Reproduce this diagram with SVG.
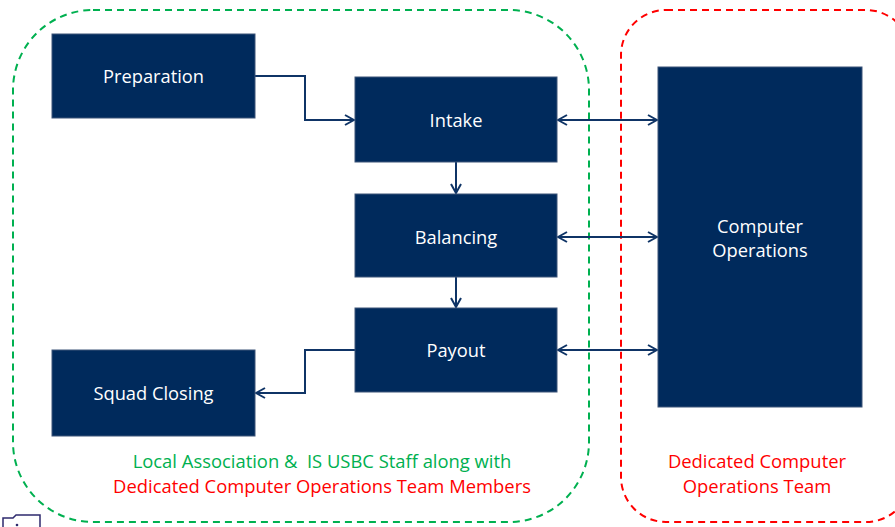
<svg xmlns="http://www.w3.org/2000/svg" width="895" height="527" viewBox="0 0 895 527">
<defs>
<style>
.node{fill:#002A5C;stroke:#3C5478;stroke-width:1}
.lbl{font-family:"Open Sans","Liberation Sans",sans-serif;font-size:18.3px;fill:#FFFFFF;text-anchor:middle}
.conn{fill:none;stroke:#0F3466;stroke-width:2}
.cap{font-family:"Open Sans","Liberation Sans",sans-serif;font-size:18.4px;text-anchor:middle;white-space:pre}
</style>
<marker id="ah" viewBox="0 0 12 12" refX="11" refY="6" markerWidth="12" markerHeight="12" markerUnits="userSpaceOnUse" orient="auto-start-reverse">
<path d="M2,1 L11,6 L2,11" fill="none" stroke="#0F3466" stroke-width="2"/>
</marker>
</defs>
<rect width="895" height="527" fill="#FFFFFF"/>
<g id="group-local">
<rect x="13" y="10" width="576" height="512" rx="80" ry="80" fill="none" stroke="#00B050" stroke-width="2" stroke-dasharray="7,5"/>
<text class="cap" x="322" y="468" fill="#00B050" xml:space="preserve">Local Association &amp;  IS USBC Staff along with</text>
<text class="cap" x="322" y="493" fill="#FF0000">Dedicated Computer Operations Team Members</text>
</g>
<g id="group-dedicated">
<rect x="621" y="10" width="290" height="512" rx="45" ry="45" fill="none" stroke="#FF0000" stroke-width="2" stroke-dasharray="7,5"/>
<text class="cap" x="757" y="468" fill="#FF0000">Dedicated Computer</text>
<text class="cap" x="757" y="493" fill="#FF0000">Operations Team</text>
</g>
<g id="connectors">
<path class="conn" d="M255,76 H305 V120 H354" marker-end="url(#ah)"/>
<path class="conn" d="M456,162 V193" marker-end="url(#ah)"/>
<path class="conn" d="M456,277 V307" marker-end="url(#ah)"/>
<path class="conn" d="M355,350 H305 V393 H256" marker-end="url(#ah)"/>
<path class="conn" d="M558,120 H657" marker-start="url(#ah)" marker-end="url(#ah)"/>
<path class="conn" d="M558,237 H657" marker-start="url(#ah)" marker-end="url(#ah)"/>
<path class="conn" d="M558,350 H657" marker-start="url(#ah)" marker-end="url(#ah)"/>
</g>
<g id="node-preparation">
<rect class="node" x="52" y="34" width="203" height="84"/>
<text class="lbl" x="153.5" y="83">Preparation</text>
</g>
<g id="node-intake">
<rect class="node" x="355" y="77" width="202" height="85"/>
<text class="lbl" x="456" y="127">Intake</text>
</g>
<g id="node-balancing">
<rect class="node" x="355" y="194" width="202" height="83"/>
<text class="lbl" x="456" y="244">Balancing</text>
</g>
<g id="node-payout">
<rect class="node" x="355" y="308" width="202" height="84"/>
<text class="lbl" x="456" y="357">Payout</text>
</g>
<g id="node-squad-closing">
<rect class="node" x="52" y="350" width="203" height="86"/>
<text class="lbl" x="153.5" y="400">Squad Closing</text>
</g>
<g id="node-computer-operations">
<rect class="node" x="658" y="67" width="204" height="340"/>
<text class="lbl" x="760" y="233">Computer</text>
<text class="lbl" x="760" y="257">Operations</text>
</g>
<g id="icon-fragment">
<path d="M3,527 V518 H13 L16,515 H40 V527" fill="none" stroke="#2E2A6E" stroke-width="1.5"/>
<circle cx="17" cy="525" r="1.3" fill="#2E2A6E"/>
</g>
</svg>
